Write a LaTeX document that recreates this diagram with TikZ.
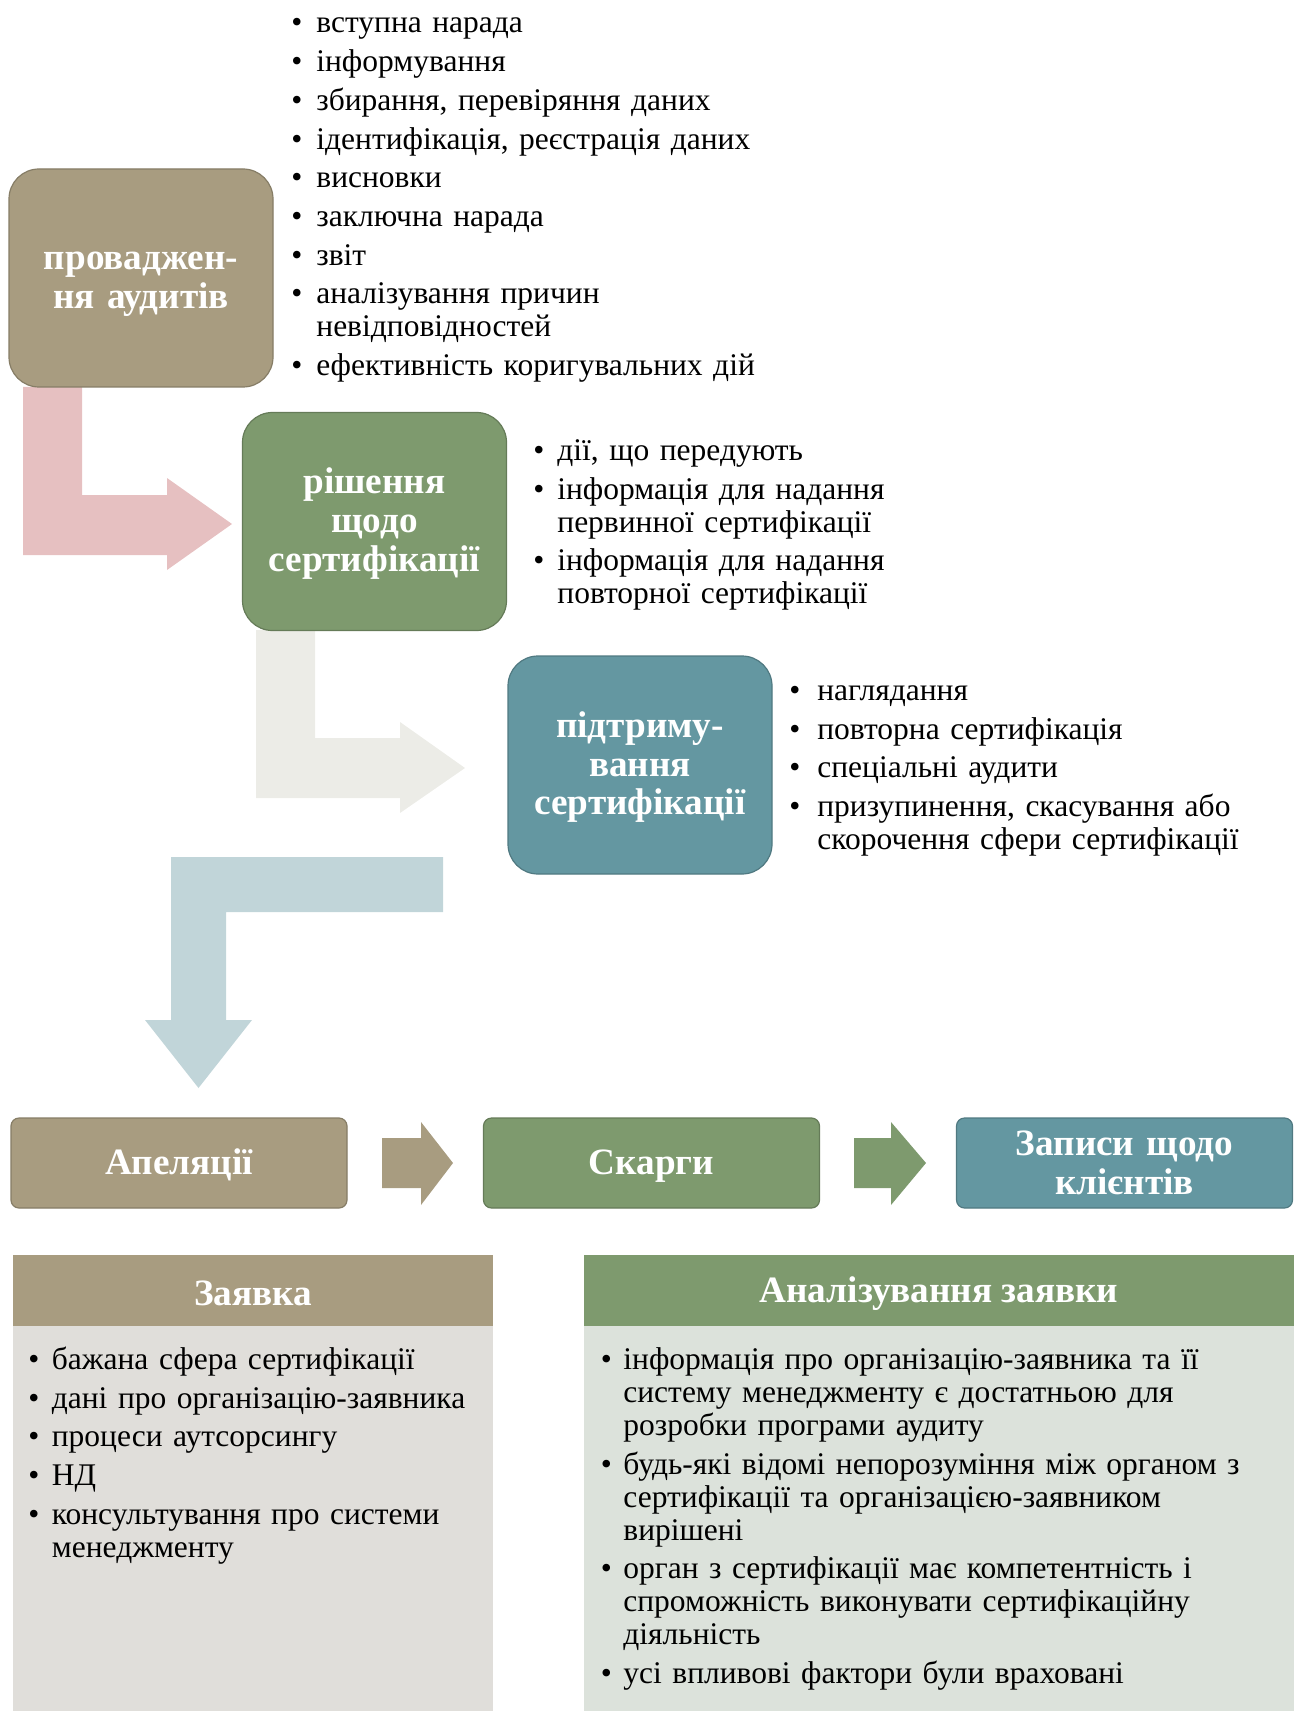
\documentclass[tikz,border=0pt]{standalone}
\usepackage{fontspec}
\setmainfont{Liberation Serif}
\usepackage{tikz}
\usetikzlibrary{positioning}

\definecolor{audtan}{RGB}{168,156,128}
\definecolor{decgreen}{RGB}{126,154,110}
\definecolor{keepteal}{RGB}{100,151,161}
\definecolor{arrpink}{RGB}{230,192,193}
\definecolor{arrgray}{RGB}{236,236,231}
\definecolor{arrblue}{RGB}{193,213,217}
\definecolor{bodytan}{RGB}{224,222,218}
\definecolor{bodygreen}{RGB}{220,226,219}

\newlength\bulw
\newcommand\itm[1]{\hangindent=\bulw\hangafter=1\parskip=2.85pt%
  \noindent\makebox[\bulw][l]{\textbullet}#1\par}

\tikzset{
  stagebox/.style={draw=#1!80!black, fill=#1, line width=0.6pt, rounded corners=15pt,
    text width=132pt, minimum height=109pt, inner sep=0pt, text height=15pt,
    text=white, align=center, font=\bfseries\fontsize{18.6}{19.35}\selectfont},
  rowbox/.style={draw=#1!80!black, fill=#1, line width=0.6pt, rounded corners=4pt,
    text width=168pt, minimum height=45pt, inner sep=0pt, text height=15pt,
    text=white, align=center, font=\bfseries\fontsize{18.6}{19.35}\selectfont},
  headbox/.style={fill=#1, minimum height=35.5pt, inner sep=0pt, outer sep=0pt,
    text height=15pt, text=white, font=\bfseries\fontsize{18.6}{19.35}\selectfont},
  bodybox/.style={fill=#1, minimum height=192.5pt, inner sep=0pt, outer sep=0pt},
  blist/.style={anchor=base west, inner sep=0pt, text width=330pt,
    font=\fontsize{15.75}{16.5}\selectfont, execute at begin node={\setlength{\bulw}{#1}}}
}

\begin{document}
\begin{tikzpicture}[x=0.5pt,y=-0.5pt]
\useasboundingbox (0,0) rectangle (1295,1711);

% bent arrows between the stages
\fill[arrpink] (23,387) -- (82,387) -- (82,495) -- (167,495) -- (167,478) -- (232,524)
  -- (167,570) -- (167,555) -- (23,555) -- cycle;
\fill[arrgray] (256,630) -- (315,630) -- (315,738) -- (400,738) -- (400,722) -- (465,768)
  -- (400,813) -- (400,798) -- (256,798) -- cycle;
\fill[arrblue] (171,857) -- (443,857) -- (443,912) -- (226,912) -- (226,1020) -- (252,1020)
  -- (198.5,1088) -- (145,1020) -- (171,1020) -- cycle;

% stages
\node[stagebox=audtan] (audit) at (141,278) {проваджен-\\ня аудитів};
\node[stagebox=decgreen] (decide) at (374.5,521.5) {рішення\\щодо\\сертифікації};
\node[stagebox=keepteal] (keep) at (640,765) {підтриму-\\вання\\сертифікації};

\node[blist=12.5pt] (auditlist) at (291,33) {%
  \itm{вступна нарада}
  \itm{інформування}
  \itm{збирання, перевіряння даних}
  \itm{ідентифікація, реєстрація даних}
  \itm{висновки}
  \itm{заключна нарада}
  \itm{звіт}
  \itm{аналізування причин\newline невідповідностей}
  \itm{ефективність коригувальних дій}};

\node[blist=12pt] (decidelist) at (533,460.5) {%
  \itm{дії, що передують}
  \itm{інформація для надання\newline первинної сертифікації}
  \itm{інформація для надання\newline повторної сертифікації}};

\node[blist=14pt] (keeplist) at (789,700.5) {%
  \itm{наглядання}
  \itm{повторна сертифікація}
  \itm{спеціальні аудити}
  \itm{призупинення, скасування або\newline скорочення сфери сертифікації}};

% bottom row
\node[rowbox=audtan] (appeal) at (179,1163) {Апеляції};
\node[rowbox=decgreen] (complain) at (651.5,1163) {Скарги};
\node[rowbox=keepteal, text height=12.3pt] (records) at (1124.5,1163) {Записи щодо\\клієнтів};

\fill[audtan] (382,1138) -- (421,1138) -- (421,1122) -- (453,1163) -- (421,1205)
  -- (421,1188) -- (382,1188) -- cycle;
\fill[decgreen] (854,1138) -- (891,1138) -- (891,1122) -- (926,1163) -- (891,1205)
  -- (891,1188) -- (854,1188) -- cycle;

% application panels
\node[headbox=audtan, minimum width=240pt] (req) at (253,1290.5) {Заявка};
\node[bodybox=bodytan, minimum width=240pt, below=0pt of req] (reqbody) {};
\node[headbox=decgreen, minimum width=355pt, text height=16.5pt] (review) at (939,1290.5) {Аналізування заявки};
\node[bodybox=bodygreen, minimum width=355pt, below=0pt of review] (reviewbody) {};

\node[blist=11.75pt] (reqlist) at (28,1369.5) {%
  \itm{бажана сфера сертифікації}
  \itm{дані про організацію-заявника}
  \itm{процеси аутсорсингу}
  \itm{НД}
  \itm{консультування про системи\newline менеджменту}};

\node[blist=11.25pt] (reviewlist) at (600.5,1369.5) {%
  \itm{інформація про організацію-заявника та її\newline систему менеджменту є достатньою для\newline розробки програми аудиту}
  \itm{будь-які відомі непорозуміння між органом з\newline сертифікації та організацією-заявником\newline вирішені}
  \itm{орган з сертифікації має компетентність і\newline спроможність виконувати сертифікаційну\newline діяльність}
  \itm{усі впливові фактори були враховані}};
\end{tikzpicture}
\end{document}
